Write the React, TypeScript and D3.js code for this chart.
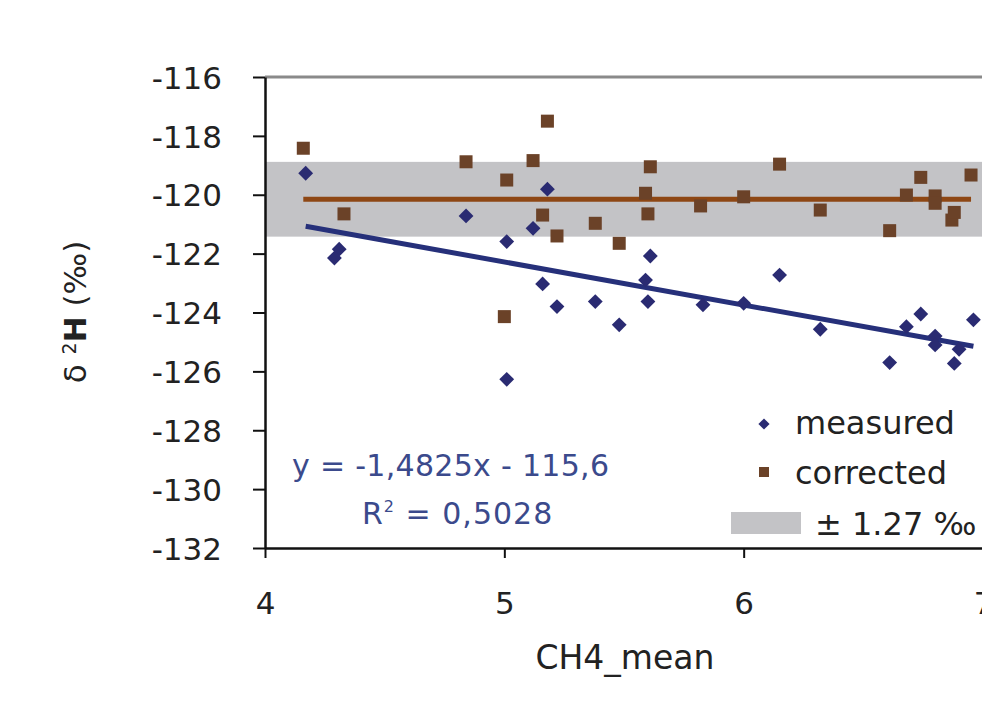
import React, { useEffect, useRef } from 'react';
import * as d3 from 'd3';

// CH4_mean values and delta 2H values
const measuredX = [4.17, 4.31, 4.29, 4.84, 5.18, 5.12, 5.01, 5.61, 5.16, 5.22, 5.38, 5.48, 5.59, 5.60, 5.83, 5.01, 6.15, 6.00, 6.32, 6.61, 6.74, 6.68, 6.80, 6.80, 6.88, 6.90, 6.96];
const measuredY = [-119.27, -121.85, -122.15, -120.72, -119.81, -121.14, -121.59, -122.08, -123.03, -123.8, -123.63, -124.42, -122.9, -123.63, -123.74, -126.27, -122.73, -123.69, -124.57, -125.7, -124.05, -124.48, -124.8, -125.1, -125.73, -125.25, -124.25];

const correctedX = [4.16, 4.33, 4.84, 5.18, 5.12, 5.01, 5.16, 5.22, 5.38, 5.48, 5.61, 5.59, 5.60, 5.82, 5.00, 6.15, 6.00, 6.32, 6.61, 6.74, 6.68, 6.80, 6.80, 6.87, 6.88, 6.95];
const correctedY = [-118.42, -120.65, -118.88, -117.5, -118.84, -119.5, -120.69, -121.4, -120.97, -121.65, -119.05, -119.95, -120.65, -120.38, -124.14, -118.96, -120.07, -120.52, -121.22, -119.41, -120.01, -120.04, -120.29, -120.86, -120.6, -119.33];

const yTicks = [-116, -118, -120, -122, -124, -126, -128, -130, -132];
const xTicks = [4, 5, 6, 7];
const bandHalf = 1.27;
const equationText = 'y = -1,4825x - 115,6';
const r2Value = '0,5028';

const FONT = '"DejaVu Sans", Verdana, sans-serif';

function linFit(xs, ys) {
    const mx = d3.mean(xs), my = d3.mean(ys);
    let num = 0, den = 0;
    xs.forEach((x, i) => { num += (x - mx) * (ys[i] - my); den += (x - mx) * (x - mx); });
    const b = num / den;
    return { b, a: my - b * mx };
}

function Chart() {
    const ref = useRef(null);
    useEffect(() => {
        const svg = d3.select(ref.current);
        svg.selectAll('*').remove();

        const left = 265, top = 77, bottom = 548, right = 983;
        const x = d3.scaleLinear().domain([4, 7]).range([left, right]);
        const y = d3.scaleLinear().domain([-132, -116]).range([bottom, top]);

        // grey band around the corrected mean
        const cMean = d3.mean(correctedY);
        svg.append('rect')
            .attr('x', left).attr('width', right - left)
            .attr('y', y(cMean + bandHalf))
            .attr('height', y(cMean - bandHalf) - y(cMean + bandHalf))
            .attr('fill', '#c3c3c6');

        // top frame line
        svg.append('line')
            .attr('x1', left).attr('x2', right)
            .attr('y1', top).attr('y2', top)
            .attr('stroke', '#8a8a8a').attr('stroke-width', 3);

        // left axis (plain hyphen minus like the original)
        const yAxis = svg.append('g').attr('transform', `translate(${left},0)`)
            .call(d3.axisLeft(y).tickValues(yTicks).tickSize(12).tickSizeOuter(0).tickFormat(d => String(d)));
        yAxis.select('.domain').attr('stroke', '#111').attr('stroke-width', 2.5);
        yAxis.selectAll('.tick line').attr('stroke', '#111').attr('stroke-width', 2);
        yAxis.selectAll('.tick text')
            .attr('x', -43).attr('dy', '0.36em')
            .attr('font-family', FONT).attr('font-size', 31).attr('fill', '#222');

        // bottom axis
        const xAxis = svg.append('g').attr('transform', `translate(0,${bottom})`)
            .call(d3.axisBottom(x).tickValues(xTicks).tickSize(10).tickSizeOuter(0).tickFormat(d => String(d)));
        xAxis.select('.domain').attr('stroke', '#111').attr('stroke-width', 2.5);
        xAxis.selectAll('.tick line').attr('stroke', '#111').attr('stroke-width', 2);
        xAxis.selectAll('.tick text')
            .attr('y', 55).attr('dy', '0.36em')
            .attr('font-family', FONT).attr('font-size', 31).attr('fill', '#222');

        // trend lines
        const fit = linFit(measuredX, measuredY);
        const mx = d3.extent(measuredX);
        svg.append('line')
            .attr('x1', x(mx[0])).attr('x2', x(mx[1]))
            .attr('y1', y(fit.a + fit.b * mx[0])).attr('y2', y(fit.a + fit.b * mx[1]))
            .attr('stroke', '#26307a').attr('stroke-width', 5);
        const cx = d3.extent(correctedX);
        svg.append('line')
            .attr('x1', x(cx[0])).attr('x2', x(cx[1]))
            .attr('y1', y(cMean)).attr('y2', y(cMean))
            .attr('stroke', '#8e4714').attr('stroke-width', 5);

        // markers
        const diamond = d3.symbol().type(d3.symbolDiamond2).size(140);
        svg.append('g').selectAll('path')
            .data(measuredX.map((v, i) => [v, measuredY[i]]))
            .enter().append('path')
            .attr('d', diamond)
            .attr('transform', d => `translate(${x(d[0])},${y(d[1])})`)
            .attr('fill', '#2a2b72');
        svg.append('g').selectAll('rect')
            .data(correctedX.map((v, i) => [v, correctedY[i]]))
            .enter().append('rect')
            .attr('x', d => x(d[0]) - 6.5).attr('y', d => y(d[1]) - 6.5)
            .attr('width', 13).attr('height', 13)
            .attr('fill', '#6b4228');

        // regression text
        svg.append('text').attr('x', 292).attr('y', 476)
            .attr('font-family', FONT).attr('font-size', 30).attr('letter-spacing', 0.3).attr('fill', '#3b4a8c')
            .text(equationText);
        const r2 = svg.append('text').attr('x', 362).attr('y', 524)
            .attr('font-family', FONT).attr('font-size', 30).attr('letter-spacing', 1).attr('fill', '#3b4a8c');
        r2.append('tspan').text('R');
        r2.append('tspan').attr('dy', -12).attr('font-size', 16).text('2');
        r2.append('tspan').attr('dy', 12).text(' = ' + r2Value);

        // legend
        const lg = svg.append('g').attr('font-family', FONT).attr('font-size', 32).attr('fill', '#222');
        lg.append('path').attr('d', d3.symbol().type(d3.symbolDiamond2).size(80))
            .attr('transform', 'translate(764,424)').attr('fill', '#2a2b72');
        lg.append('text').attr('x', 795).attr('y', 434).text('measured');
        lg.append('rect').attr('x', 759).attr('y', 467).attr('width', 10).attr('height', 10).attr('fill', '#6b4228');
        lg.append('text').attr('x', 795).attr('y', 484).text('corrected');
        lg.append('rect').attr('x', 731).attr('y', 512).attr('width', 70).attr('height', 22).attr('fill', '#c3c3c6');
        lg.append('text').attr('x', 815).attr('y', 535).text('± 1.27 ‰');

        // axis titles
        svg.append('text').attr('x', 625).attr('y', 669).attr('text-anchor', 'middle')
            .attr('font-family', FONT).attr('font-size', 33).attr('fill', '#222')
            .text('CH4_mean');
        const yt = svg.append('text').attr('transform', 'translate(86,312) rotate(-90)')
            .attr('text-anchor', 'middle')
            .attr('font-family', FONT).attr('font-size', 31).attr('fill', '#222');
        yt.append('tspan').text('δ ');
        yt.append('tspan').attr('dy', -10).attr('font-size', 19).text('2');
        yt.append('tspan').attr('dy', 10).attr('font-weight', 'bold').text('H');
        yt.append('tspan').text(' (‰)');
    }, []);

    return <svg ref={ref} width="982" height="710" style={{ position: 'absolute', left: 0, top: 0, background: '#fff' }}></svg>;
}

export default function App() {
    return <Chart />;
}
